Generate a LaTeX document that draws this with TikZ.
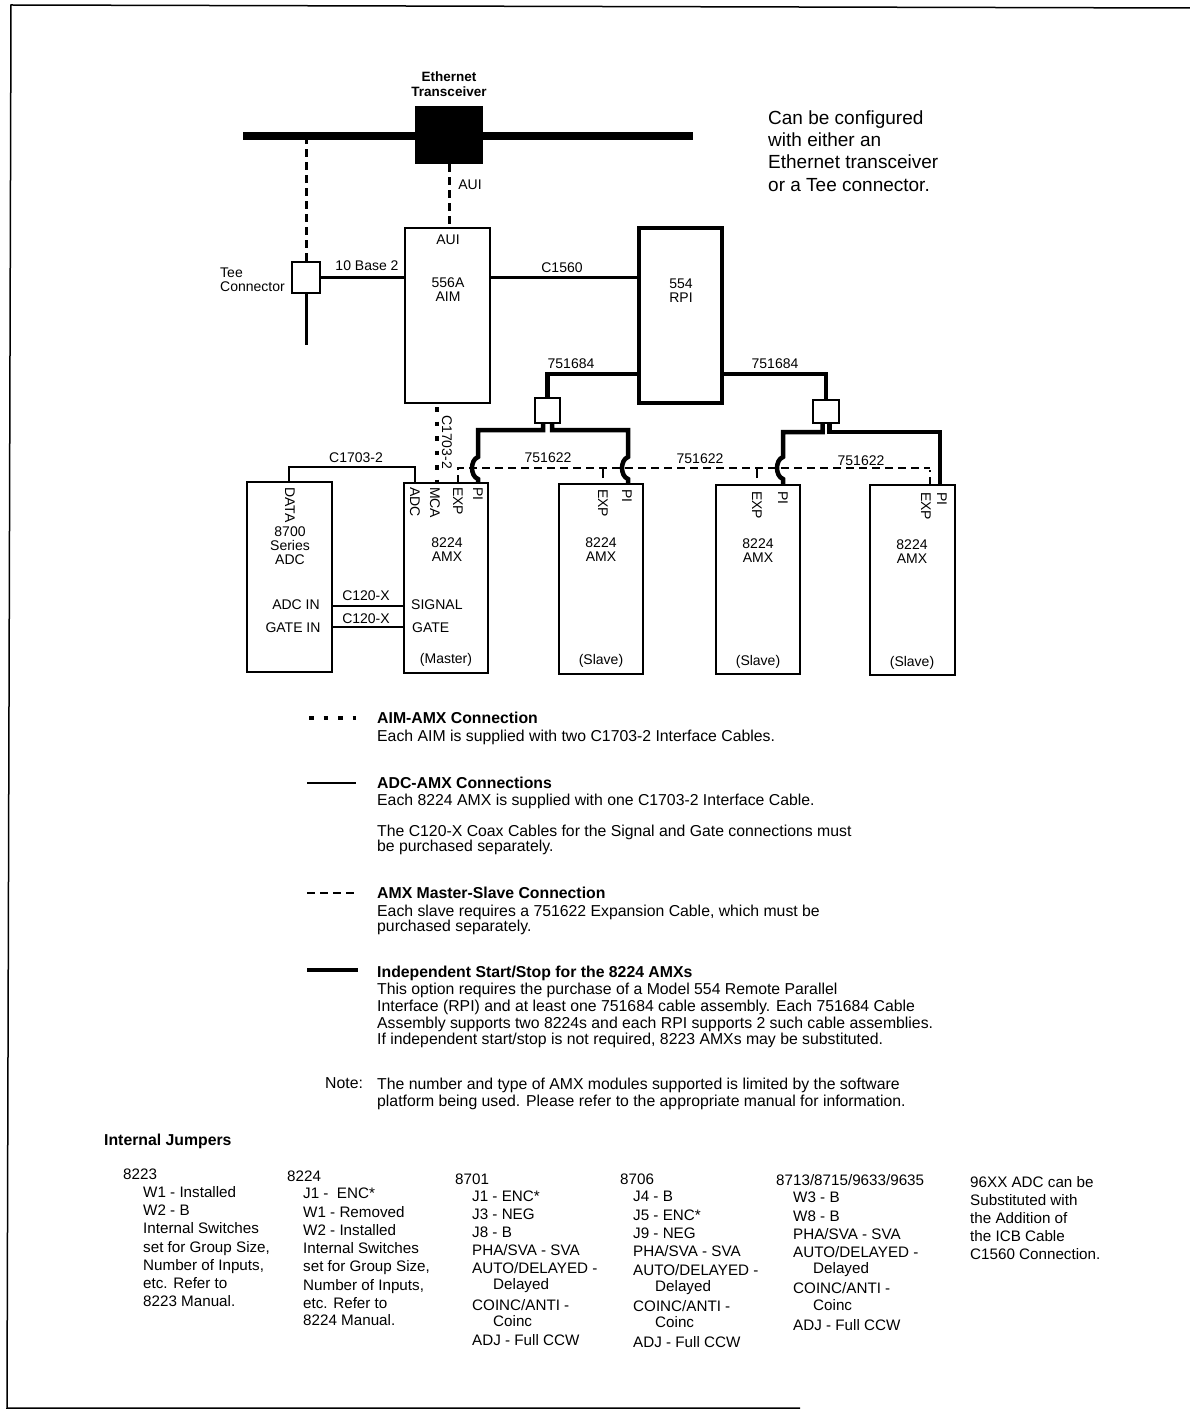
\documentclass[tikz,border=0pt]{standalone}
\usepackage{fontspec}
\setmainfont{Liberation Sans}
\usetikzlibrary{calc}
\begin{document}
\begin{tikzpicture}[x=1pt,y=-1pt,
  box/.style={draw, line width=2.4pt, inner sep=0pt},
  lbl/.style={font=\fontsize{14}{17}\selectfont, inner sep=0pt},
  blbl/.style={font=\fontsize{13.5}{15}\selectfont\bfseries, inner sep=0pt},
  rlbl/.style={font=\fontsize{14}{17}\selectfont, inner sep=0pt, rotate=-90, anchor=west},
  txt/.style={font=\fontsize{15.2}{17}\selectfont, inner sep=0pt, anchor=base west},
  ltxt/.style={font=\fontsize{15.8}{18}\selectfont, inner sep=0pt, anchor=base west},
  btxt/.style={font=\fontsize{15.8}{18}\selectfont\bfseries, inner sep=0pt, anchor=base west},
  big/.style={font=\fontsize{19}{22}\selectfont, inner sep=0pt, anchor=base west},
  cable/.style={line width=3pt},
  thinc/.style={line width=1.8pt},
  thickc/.style={line width=4.5pt},
  dashc/.style={line width=3pt, dash pattern=on 8pt off 5pt},
  msdash/.style={line width=2.2pt, dash pattern=on 8pt off 5pt},
  dotsq/.style={line width=4.5pt, dash pattern=on 4.5pt off 10pt}]
\useasboundingbox (0,0) rectangle (1190,1412);
% page frame
\draw[line width=1.5pt] (1190,8) -- (11,5) -- (7,1408) -- (800,1408);

% Ethernet bus and transceiver
\coordinate (busL) at (243,136);
\coordinate (busR) at (693,136);
\draw[line width=8pt] (busL) -- (busR);
\node[box, fill=black, minimum width=66, minimum height=56] (tx) at (449,135) {};
\node[blbl] (txl1) at (449,77) {Ethernet};
\node[blbl] (txl2) at (449,92) {Transceiver};

% boxes
\node[box, line width=2.6pt, minimum width=28, minimum height=31] (tee) at (306,277.5) {};
\node[box, minimum width=85, minimum height=175] (aim) at (447.5,315.5) {};
\node[box, line width=3.5pt, minimum width=83, minimum height=175] (rpi) at (680.5,315.5) {};
\node[box, minimum width=25, minimum height=25] (sb1) at (547.5,410.5) {};
\node[box, minimum width=26, minimum height=23] (sb2) at (826,411.5) {};
\node[box, minimum width=85, minimum height=190] (adc) at (289.5,577) {};
\node[box, minimum width=84, minimum height=190] (m) at (446,578) {};
\node[box, minimum width=84, minimum height=190] (s1) at (601,579) {};
\node[box, minimum width=84, minimum height=189] (s2) at (758,579.5) {};
\node[box, minimum width=85, minimum height=190] (s3) at (912.5,580) {};

% ports
\coordinate (adcdata) at (289,482);
\coordinate (madc) at (415,483);
\coordinate (mmca) at (437,483);
\coordinate (mexp) at (458,483);
\coordinate (mpi) at (478,483);
\coordinate (s1exp) at (603,478);
\coordinate (s1pi) at (628,484);
\coordinate (s2exp) at (757,478);
\coordinate (s2pi) at (783,485);
\coordinate (s3exp) at (930,485);
\coordinate (s3pi) at (940,485);
\coordinate (teeend) at (306,345);

% top connections
\draw[dashc] (tx.south) -- (tx.south |- aim.north);
\draw[dashc] (tee.north) -- (tee.north |- busL);
\draw[cable] (tee.south) -- (teeend);
\draw[cable] (tee.east) -- (tee.east -| aim.west);
\draw[cable] (aim.east |- tee.east) -- (rpi.west |- tee.east);
\node[lbl] (aui1) at (470,185) {AUI};
\node[lbl] (aui2) at (448,240) {AUI};
\node[lbl] (b10) at (367,266) {10 Base 2};
\node[lbl] (c1560) at (562,268) {C1560};
\node[lbl, align=left, anchor=west] (teel) at (220,280) {Tee\\[-3pt]Connector};
\node[lbl, align=center] (aiml) at (448,290) {556A\\[-3pt]AIM};
\node[lbl, align=center] (rpil) at (681,291) {554\\[-3pt]RPI};

% 751684 cables
\draw[thickc] (rpi.west |- 0,374) -| (sb1.north);
\draw[thickc] (rpi.east |- 0,374) -| (sb2.north);
\node[lbl] (c7516841) at (571,364) {751684};
\node[lbl] (c7516842) at (775,364) {751684};

% 751622 master-slave dashed
\draw[msdash] (mexp) -- (458,468) -- (930,468);
\draw[msdash] (s3exp) -- (930,470);
\draw[line width=2.2pt] (s1exp) -- (603,468);
\draw[line width=2.2pt] (s2exp) -- (757,468);
\node[lbl] (c7516221) at (548,458) {751622};
\node[lbl] (c7516222) at (700,459) {751622};
\node[lbl] (c7516223) at (861,461) {751622};

% independent start/stop branches with hops
\draw[thickc] ($(sb1.south)+(-4.5,0)$) |- (478,430) -- (478,457) .. controls (470,460) and (470,476) .. (478,479) -- (mpi);
\draw[thickc] ($(sb1.south)+(4.5,0)$) |- (628,430) -- (628,457) .. controls (620,460) and (620,476) .. (628,479) -- (s1pi);
\draw[thickc] ($(sb2.south)+(-3.5,0)$) |- (783,432) -- (783,457) .. controls (775,460) and (775,476) .. (783,479) -- (s2pi);
\draw[thickc] ($(sb2.south)+(3.5,0)$) |- (s3pi |- 0,432) -- (s3pi);

% AIM-AMX dotted
\draw[dotsq] (aim.south -| mmca) ++(0,3) -- (mmca);
\node[lbl, rotate=-90] (c1703v) at (447,442) {C1703-2};

% ADC-AMX
\draw[thinc] (adcdata) -- (adcdata |- 0,467) -- (madc |- 0,467) -- (madc);
\node[lbl] (c1703h) at (356,458) {C1703-2};
\draw[thinc] (adc.east |- 0,606) -- (m.west |- 0,606);
\draw[thinc] (adc.east |- 0,627) -- (m.west |- 0,627);
\node[lbl] (c120a) at (366,596) {C120-X};
\node[lbl] (c120b) at (366,619) {C120-X};

% rotated port labels
\node[rlbl] (ldata) at (290,487) {DATA};
\node[rlbl] (ladc) at (415,487) {ADC};
\node[rlbl] (lmca) at (435,487) {MCA};
\node[rlbl] (lmexp) at (458,487) {EXP};
\node[rlbl] (lmpi) at (478,487) {PI};
\node[rlbl] (ls1exp) at (603,489) {EXP};
\node[rlbl] (ls1pi) at (627,489) {PI};
\node[rlbl] (ls2exp) at (757,491) {EXP};
\node[rlbl] (ls2pi) at (783,491) {PI};
\node[rlbl] (ls3exp) at (926,492) {EXP};
\node[rlbl] (ls3pi) at (942,492) {PI};

% box texts
\node[lbl, align=center] (adct) at (290,546) {8700\\[-3pt]Series\\[-3pt]ADC};
\node[lbl] (adcin) at (296,605) {ADC IN};
\node[lbl] (gatein) at (293,628) {GATE IN};
\node[lbl, anchor=west] (sigl) at (411,605) {SIGNAL};
\node[lbl, anchor=west] (gatel) at (412,628) {GATE};
\node[lbl, align=center] (mt) at (447,550) {8224\\[-3pt]AMX};
\node[lbl, align=center] (s1t) at (601,550) {8224\\[-3pt]AMX};
\node[lbl, align=center] (s2t) at (758,551) {8224\\[-3pt]AMX};
\node[lbl, align=center] (s3t) at (912,552) {8224\\[-3pt]AMX};
\node[lbl] (mas) at (446,660) {(Master)};
\node[lbl] (sl1) at (601,661) {(Slave)};
\node[lbl] (sl2) at (758,662) {(Slave)};
\node[lbl] (sl3) at (912,663) {(Slave)};

% top right note
\node[big] (n1) at (768,125) {Can be configured};
\node[big] (n2) at (768,147) {with either an};
\node[big] (n3) at (768,169) {Ethernet transceiver};
\node[big] (n4) at (768,192) {or a Tee connector.};

% legend
\coordinate (lg1a) at (309,718); \coordinate (lg1b) at (356,718);
\draw[dotsq] (lg1a) -- (lg1b);
\coordinate (lg2a) at (307,783); \coordinate (lg2b) at (356,783);
\draw[line width=1.2pt] (lg2a) -- (lg2b);
\coordinate (lg3a) at (307,893); \coordinate (lg3b) at (356,893);
\draw[line width=2pt, dash pattern=on 8pt off 5pt] (lg3a) -- (lg3b);
\coordinate (lg4a) at (307,970); \coordinate (lg4b) at (358,970);
\draw[line width=4pt] (lg4a) -- (lg4b);

\node[btxt] (t1) at (377,723) {AIM-AMX Connection};
\node[ltxt] (t2) at (377,741) {Each AIM is supplied with two C1703-2 Interface Cables.};
\node[btxt] (t3) at (377,788) {ADC-AMX Connections};
\node[ltxt] (t4) at (377,805) {Each 8224 AMX is supplied with one C1703-2 Interface Cable.};
\node[ltxt] (t5) at (377,836) {The C120-X Coax Cables for the Signal and Gate connections must};
\node[ltxt] (t6) at (377,851) {be purchased separately.};
\node[btxt] (t7) at (377,898) {AMX Master-Slave Connection};
\node[ltxt] (t8) at (377,916) {Each slave requires a 751622 Expansion Cable, which must be};
\node[ltxt] (t9) at (377,931) {purchased separately.};
\node[btxt] (t10) at (377,977) {Independent Start/Stop for the 8224 AMXs};
\node[ltxt] (t11) at (377,994) {This option requires the purchase of a Model 554 Remote Parallel};
\node[ltxt] (t12) at (377,1011) {Interface (RPI) and at least one 751684 cable assembly. Each 751684 Cable};
\node[ltxt] (t13) at (377,1028) {Assembly supports two 8224s and each RPI supports 2 such cable assemblies.};
\node[ltxt] (t14) at (377,1044) {If independent start/stop is not required, 8223 AMXs may be substituted.};
\node[ltxt] (t15) at (325,1088) {Note:};
\node[ltxt] (t16) at (377,1089) {The number and type of AMX modules supported is limited by the software};
\node[ltxt] (t17) at (377,1106) {platform being used. Please refer to the appropriate manual for information.};

% internal jumpers
\node[btxt] (ij) at (104,1145) {Internal Jumpers};
% col 1
\node[txt] (a0) at (123,1179) {8223};
\node[txt] (a1) at (143,1197) {W1 - Installed};
\node[txt] (a2) at (143,1215) {W2 - B};
\node[txt] (a3) at (143,1233) {Internal Switches};
\node[txt] (a4) at (143,1252) {set for Group Size,};
\node[txt] (a5) at (143,1270) {Number of Inputs,};
\node[txt] (a6) at (143,1288) {etc. Refer to};
\node[txt] (a7) at (143,1306) {8223 Manual.};
% col 2
\node[txt] (b0) at (287,1181) {8224};
\node[txt] (b1) at (303,1198) {J1 -\ \ ENC*};
\node[txt] (b2) at (303,1217) {W1 - Removed};
\node[txt] (b3) at (303,1235) {W2 - Installed};
\node[txt] (b4) at (303,1253) {Internal Switches};
\node[txt] (b5) at (303,1271) {set for Group Size,};
\node[txt] (b6) at (303,1290) {Number of Inputs,};
\node[txt] (b7) at (303,1308) {etc. Refer to};
\node[txt] (b8) at (303,1325) {8224 Manual.};
% col 3
\node[txt] (c0) at (455,1184) {8701};
\node[txt] (c1) at (472,1201) {J1 - ENC*};
\node[txt] (c2) at (472,1219) {J3 - NEG};
\node[txt] (c3) at (472,1237) {J8 - B};
\node[txt] (c4) at (472,1255) {PHA/SVA - SVA};
\node[txt] (c5) at (472,1273) {AUTO/DELAYED -};
\node[txt] (c6) at (493,1289) {Delayed};
\node[txt] (c7) at (472,1310) {COINC/ANTI -};
\node[txt] (c8) at (493,1326) {Coinc};
\node[txt] (c9) at (472,1345) {ADJ - Full CCW};
% col 4
\node[txt] (d0) at (620,1184) {8706};
\node[txt] (d1) at (633,1201) {J4 - B};
\node[txt] (d2) at (633,1220) {J5 - ENC*};
\node[txt] (d3) at (633,1238) {J9 - NEG};
\node[txt] (d4) at (633,1256) {PHA/SVA - SVA};
\node[txt] (d5) at (633,1275) {AUTO/DELAYED -};
\node[txt] (d6) at (655,1291) {Delayed};
\node[txt] (d7) at (633,1311) {COINC/ANTI -};
\node[txt] (d8) at (655,1327) {Coinc};
\node[txt] (d9) at (633,1347) {ADJ - Full CCW};
% col 5
\node[txt] (e0) at (776,1185) {8713/8715/9633/9635};
\node[txt] (e1) at (793,1202) {W3 - B};
\node[txt] (e2) at (793,1221) {W8 - B};
\node[txt] (e3) at (793,1239) {PHA/SVA - SVA};
\node[txt] (e4) at (793,1257) {AUTO/DELAYED -};
\node[txt] (e5) at (813,1273) {Delayed};
\node[txt] (e6) at (793,1293) {COINC/ANTI -};
\node[txt] (e7) at (813,1310) {Coinc};
\node[txt] (e8) at (793,1330) {ADJ - Full CCW};
% col 6
\node[txt] (f1) at (970,1187) {96XX ADC can be};
\node[txt] (f2) at (970,1205) {Substituted with};
\node[txt] (f3) at (970,1223) {the Addition of};
\node[txt] (f4) at (970,1241) {the ICB Cable};
\node[txt] (f5) at (970,1259) {C1560 Connection.};
\end{tikzpicture}
\end{document}
